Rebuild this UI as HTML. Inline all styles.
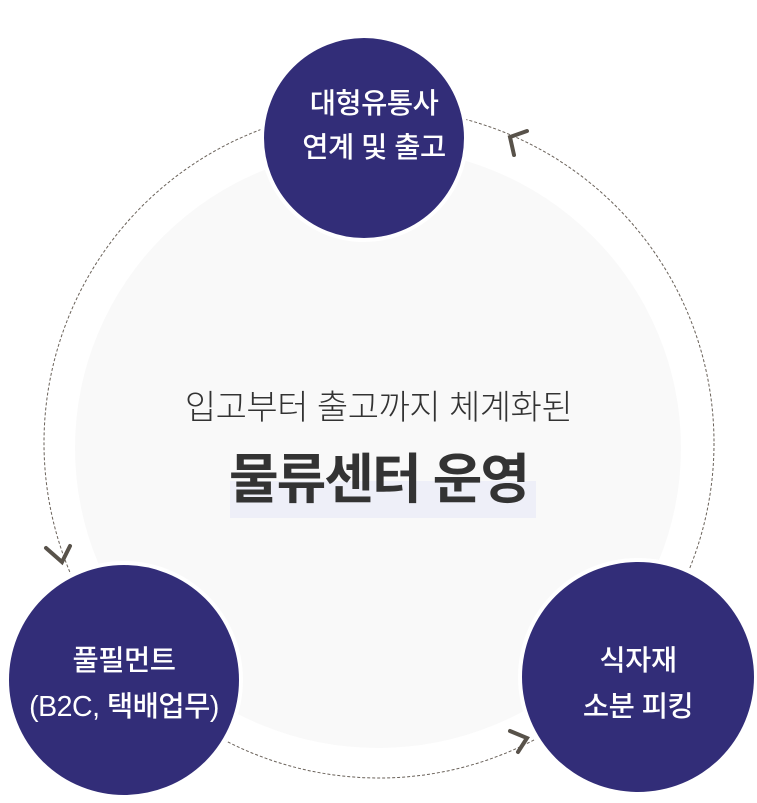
<!DOCTYPE html>
<html><head><meta charset="utf-8"><style>
html,body{margin:0;padding:0;background:#fff;}
body{width:757px;height:803px;position:relative;overflow:hidden;font-family:"Liberation Sans","Noto Sans CJK KR",sans-serif;}
.c{position:absolute;border-radius:50%;background:#322d78;border:4px solid #fff;box-sizing:border-box;color:#fff;display:flex;align-items:center;justify-content:center;text-align:center;font-size:28.5px;font-weight:500;line-height:46px;letter-spacing:-0.5px;}
</style></head><body>
<div style="position:absolute;left:75px;top:148px;width:606px;height:600px;border-radius:50%;background:#f9f9f9"></div>
<svg width="757" height="803" style="position:absolute;left:0;top:0">
<circle cx="379" cy="443" r="335" fill="none" stroke="#6a625a" stroke-width="1" stroke-dasharray="3,2"/>
<g fill="none" stroke="#58524a" stroke-width="4" stroke-linecap="round">
<polyline points="527,131 510,137 514,155"/>
<polyline points="46,548 62,562 70,546"/>
<polyline points="510,731 527,738 518,752"/>
</g>
</svg>
<div class="c" style="left:260px;top:34px;width:208px;height:208px;line-height:44px;padding-left:20px;padding-bottom:24px;white-space:nowrap">대형유통사<br>연계 및 출고</div>
<div class="c" style="left:5px;top:561px;width:238px;height:238px;padding-top:8px;white-space:nowrap">풀필먼트<br>(B2C, 택배업무)</div>
<div class="c" style="left:518px;top:558px;width:240px;height:238px;padding-top:14px">식자재<br>소분 피킹</div>
<div style="position:absolute;left:0;width:757px;top:387px;text-align:center;font-size:34px;line-height:42px;letter-spacing:-0.5px;color:#333;font-weight:300">입고부터 출고까지 체계화된</div>
<div style="position:absolute;left:230px;top:481px;width:306px;height:37px;background:#eeeff8"></div>
<div style="position:absolute;left:0;width:757px;top:449px;text-align:center;font-size:54px;line-height:62px;letter-spacing:-2px;color:#333;font-weight:bold">물류센터 운영</div>
</body></html>
